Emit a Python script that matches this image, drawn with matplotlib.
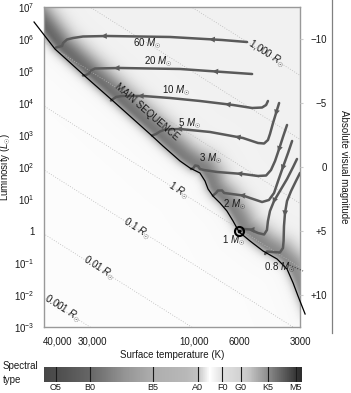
import numpy as np
import matplotlib

matplotlib.use("Agg")
import matplotlib.pyplot as plt
from matplotlib.lines import Line2D
from matplotlib.ticker import NullLocator
from matplotlib.transforms import ScaledTranslation

plt.rcParams["font.family"] = ["Liberation Sans", "DejaVu Sans"]
plt.rcParams["mathtext.fontset"] = "custom"
plt.rcParams["mathtext.rm"] = "Liberation Sans"
plt.rcParams["mathtext.it"] = "Liberation Sans:italic"
plt.rcParams["font.size"] = 7

# axis ranges
T_HOT, T_COOL = 54700, 3000
L_MIN, L_MAX = 1e-3, 1e7

# main sequence (log10 T, log10 L)
ms_logT = [4.787, 4.684, 4.526, 4.398, 4.216, 4.152, 4.068, 4.019, 3.970, 3.945,
           3.930, 3.906, 3.871, 3.837, 3.807, 3.777, 3.723, 3.659, 3.590, 3.541,
           3.511, 3.487, 3.452]
ms_logL = [6.531, 5.688, 4.781, 4.063, 3.031, 2.656, 2.188, 1.969, 1.813, 1.563,
           1.313, 1.094, 0.875, 0.625, 0.313, -0.031, -0.313, -0.625, -0.875, -1.188,
           -1.625, -2.031, -2.594]

# pre-main-sequence tracks (log10 T, log10 L)
m60_logT = [3.738, 3.861, 4.117, 4.428, 4.546, 4.595, 4.625, 4.644, 4.649, 4.669, 4.679]
m60_logL = [5.906, 5.969, 6.063, 6.094, 6.078, 6.031, 5.984, 5.875, 5.781, 5.750, 5.734]
m20_logT = [3.713, 3.856, 4.068, 4.364, 4.487, 4.507, 4.516, 4.531, 4.546]
m20_logL = [4.906, 4.969, 5.063, 5.094, 5.078, 5.016, 4.922, 4.875, 4.859]
m10_logT = [3.635, 3.644, 3.664, 3.713, 3.807, 3.970, 4.117, 4.250, 4.354, 4.383, 4.398, 4.408]
m10_logL = [4.063, 3.938, 3.859, 3.844, 3.938, 4.063, 4.156, 4.219, 4.219, 4.188, 4.125, 4.078]
m5_logT = [3.580, 3.595, 3.610, 3.625, 3.635, 3.654, 3.684, 3.758, 3.920, 4.068, 4.142,
           4.167, 4.186, 4.206]
m5_logL = [4.000, 3.688, 3.375, 3.031, 2.844, 2.734, 2.750, 2.906, 3.094, 3.188, 3.172,
           3.109, 3.031, 2.984]
m3_logT = [3.541, 3.561, 3.580, 3.600, 3.620, 3.644, 3.684, 3.758, 3.886, 3.950, 3.970,
           3.979, 3.994, 4.002, 4.014]
m3_logL = [3.313, 2.938, 2.563, 2.188, 1.906, 1.734, 1.719, 1.781, 1.844, 1.906, 1.938,
           2.031, 2.047, 1.969, 1.938]
m2_logT = [3.516, 3.536, 3.561, 3.585, 3.605, 3.630, 3.664, 3.723, 3.758, 3.832, 3.851,
           3.861, 3.881, 3.891, 3.906]
m2_logL = [2.813, 2.438, 2.000, 1.563, 1.188, 0.969, 0.906, 1.031, 1.109, 1.172, 1.188,
           1.266, 1.266, 1.188, 1.109]
m1_logT = [3.492, 3.511, 3.541, 3.576, 3.605, 3.625, 3.635, 3.640, 3.654, 3.684, 3.723,
           3.753, 3.768]
m1_logL = [2.250, 2.000, 1.625, 1.250, 0.938, 0.625, 0.313, 0.031, -0.109, -0.063, 0.047,
           0.063, 0.000]
m08_logT = [3.477, 3.497, 3.521, 3.541, 3.551, 3.556, 3.558, 3.561, 3.576, 3.615, 3.640, 3.649]
m08_logL = [1.813, 1.563, 1.250, 0.938, 0.563, 0.156, -0.313, -0.531, -0.672, -0.656,
            -0.641, -0.719]
dotted_logT = [3.541, 3.462]
dotted_logL = [-1.031, -1.250]

track_names = [r"60 $M_{\odot}$", r"20 $M_{\odot}$", r"10 $M_{\odot}$", r"5 $M_{\odot}$",
               r"3 $M_{\odot}$", r"2 $M_{\odot}$", r"1 $M_{\odot}$", r"0.8 $M_{\odot}$"]
track_label_logT = [4.231, 4.177, 4.088, 4.019, 3.920, 3.797, 3.802, 3.576]
track_label_logL = [5.844, 5.281, 4.375, 3.344, 2.250, 0.813, -0.313, -1.156]
arrow_index = [[1, 3], [1, 3], [4, 7], [1, 7, 9], [2, 7], [2, 8], [4, 10], [4]]

sun_T, sun_L = 6000, 1.0

# lines of constant radius
radii = [0.001, 0.01, 0.1, 1, 10, 100, 1000]
radius_labels = ["0.001", "0.01", "0.1", "1", "", "", "1,000"]
radius_label_T = [44600, 29300, 19050, 11970, None, None, 4405]

# magnitude scale
mag_ticks = [-10, -5, 0, 5, 10]
mag_labels = ["\u221210", "\u22125", "0", "+5", "+10"]

# temperature ticks
temp_ticks = [40000, 30000, 10000, 6000, 3000]
temp_labels = ["40,000", "30,000", "10,000", "6000", "3000"]

# spectral type bar
spec_types = ["O5", "B0", "B5", "A0", "F0", "G0", "K5", "M5"]
spec_T = [48000, 32500, 16000, 9600, 7300, 5900, 4350, 3180]
bar_T = [55000, 48000, 32500, 22000, 16000, 11000, 9600, 8400, 7300, 6500, 5900,
         5300, 4350, 3600, 3180, 3000]
bar_gray = [0.28, 0.30, 0.40, 0.58, 0.68, 0.72, 0.76, 1.0, 0.88, 0.85, 0.82,
            0.76, 0.55, 0.35, 0.22, 0.18]

W, H = 351, 393
fig = plt.figure(figsize=(W / 100, H / 100), dpi=100)
rect = [44 / W, 1 - 327 / H, 256 / W, 320 / H]

# shaded band along the main sequence
bg = fig.add_axes(rect, zorder=0)
nx, ny = 256, 320
U, V = np.meshgrid(np.arange(nx) + 0.5, np.arange(ny) + 0.5)
lt_hot, lt_cool = np.log10(T_HOT), np.log10(T_COOL)
ms_u = (lt_hot - np.array(ms_logT)) / (lt_hot - lt_cool) * nx
ms_v = (np.array(ms_logL) + 3) / 10 * ny
dist = np.full(U.shape, np.inf)
for i in range(len(ms_u) - 1):
    ax_, ay_ = ms_u[i], ms_v[i]
    bx_, by_ = ms_u[i + 1], ms_v[i + 1]
    dx, dy = bx_ - ax_, by_ - ay_
    t = np.clip(((U - ax_) * dx + (V - ay_) * dy) / (dx * dx + dy * dy), 0, 1)
    dist = np.minimum(dist, np.hypot(U - ax_ - t * dx, V - ay_ - t * dy))
side = np.sign(V - np.interp(U, ms_u, ms_v))
d = dist * side
base = 0.985 - 0.04 * (0.5 + 0.5 * np.tanh(d / 25))
depth = 0.55 - 0.15 * (U / nx)
width = np.where(d > 6, 16.0, 8.0)
img = base - depth * np.exp(-((d - 6) / width) ** 2)
bg.imshow(img, origin="lower", cmap="gray", vmin=0, vmax=1, aspect="auto",
          extent=(0, 1, 0, 1), interpolation="bilinear")
bg.axis("off")

ax = fig.add_axes(rect, zorder=1)
ax.patch.set_alpha(0)
ax.set_xscale("log")
ax.set_yscale("log")
ax.set_xlim(T_HOT, T_COOL)
ax.set_ylim(L_MIN, L_MAX)

# constant radius lines
T_grid = np.geomspace(2500, 70000, 60)
for R, lab, lt in zip(radii, radius_labels, radius_label_T):
    ax.plot(T_grid, R ** 2 * (T_grid / 5772) ** 4, color="0.72", lw=0.6,
            linestyle=(0, (1, 2)), zorder=1)
    if lab:
        L_here = R ** 2 * (lt / 5772) ** 4
        p1 = ax.transData.transform((lt * 1.1, R ** 2 * (lt * 1.1 / 5772) ** 4))
        p2 = ax.transData.transform((lt / 1.1, R ** 2 * (lt / 1.1 / 5772) ** 4))
        ang = np.degrees(np.arctan2(p2[1] - p1[1], p2[0] - p1[0]))
        ax.text(lt, L_here, lab + r" $R_{\odot}$", rotation=ang, rotation_mode="anchor",
                ha="center", va="center", fontsize=7, color="0.1", zorder=2)

# main sequence
ax.plot(10 ** np.array(ms_logT), 10 ** np.array(ms_logL), color="black", lw=0.9,
        clip_on=False, zorder=4)
ax.text(10 ** 4.232, 10 ** 3.720, "MAIN SEQUENCE", rotation=-41, ha="center",
        va="center", fontsize=7, color="0.1", rotation_mode="anchor", zorder=6)

# evolutionary tracks
track_color = "#5a5a5a"
tracks = [(m60_logT, m60_logL), (m20_logT, m20_logL), (m10_logT, m10_logL),
          (m5_logT, m5_logL), (m3_logT, m3_logL), (m2_logT, m2_logL),
          (m1_logT, m1_logL), (m08_logT, m08_logL)]
for (lt, ll), name, xt, yt, arrows in zip(tracks, track_names, track_label_logT,
                                           track_label_logL, arrow_index):
    ax.plot(10 ** np.array(lt), 10 ** np.array(ll), color=track_color, lw=1.8,
            solid_capstyle="round", solid_joinstyle="round", zorder=3)
    for i in arrows:
        x0, y0 = 10 ** lt[i], 10 ** ll[i]
        x1 = 10 ** (lt[i] + 0.25 * (lt[i + 1] - lt[i]))
        y1 = 10 ** (ll[i] + 0.25 * (ll[i + 1] - ll[i]))
        ax.annotate("", xy=(x1, y1), xytext=(x0, y0),
                    arrowprops=dict(arrowstyle="-|>,head_length=0.6,head_width=0.3",
                                    color=track_color, lw=0, shrinkA=0, shrinkB=0,
                                    mutation_scale=7), zorder=5)
    ax.text(10 ** xt, 10 ** yt, name, ha="center", va="center", fontsize=7,
            color="0.1", zorder=6)

ax.plot(10 ** np.array(dotted_logT), 10 ** np.array(dotted_logL), color="0.25", lw=0.8,
        linestyle=(0, (1, 1.5)), clip_on=False, zorder=3)

# the Sun
ax.plot([sun_T], [sun_L], "o", ms=6.5, mfc="none", mec="black", mew=1.5, zorder=7)
ax.plot([sun_T], [sun_L], "o", ms=1.6, color="black", zorder=7)

# axes styling
for sp in ax.spines.values():
    sp.set_color("0.6")
    sp.set_linewidth(1.0)
ax.set_xticks(temp_ticks)
ax.set_xticklabels(temp_labels)
ax.xaxis.set_minor_locator(NullLocator())
ax.set_yticks([10.0 ** k for k in range(-3, 8)])
ax.set_yticklabels(["1" if k == 0 else r"$10^{%d}$" % k for k in range(-3, 8)])
ax.yaxis.set_minor_locator(NullLocator())
ax.tick_params(axis="x", length=0, pad=7, labelsize=7, labelcolor="0.1")
ax.tick_params(axis="y", length=0, pad=7, labelsize=7, labelcolor="0.1")
for lab, dx in zip(ax.get_xticklabels()[:2], [-14, -5]):
    lab.set_transform(lab.get_transform() + ScaledTranslation(dx / 100, 0, fig.dpi_scale_trans))

ax2 = ax.twinx()
ax2.set_ylim(12.5, -12.5)
ax2.set_yticks(mag_ticks)
ax2.set_yticklabels(mag_labels)
for sp in ax2.spines.values():
    sp.set_visible(False)
ax2.tick_params(axis="y", length=2.5, color="0.8", pad=17, labelsize=7, labelcolor="0.1")
for lab in ax2.get_yticklabels():
    lab.set_horizontalalignment("right")

fig.add_artist(Line2D([332 / W, 332 / W], [1.0, 1 - 333 / H], transform=fig.transFigure,
                      color="0.5", lw=0.9))

fig.text(6 / W, 1 - 167 / H, r"Luminosity ($L_{\odot}$)", rotation=90, ha="center",
         va="center", fontsize=7, color="0.1")
fig.text(344 / W, 1 - 167 / H, "Absolute visual magnitude", rotation=270, ha="center",
         va="center", fontsize=7, color="0.1")
fig.text(172 / W, 1 - 355 / H, "Surface temperature (K)", ha="center", va="center",
         fontsize=7, color="0.1")

# spectral type bar
bax = fig.add_axes([44 / W, 1 - 382 / H, 258 / W, 15 / H])
bax.set_xscale("log")
bax.set_xlim(T_HOT, T_COOL * 0.985)
edges = np.geomspace(2900, 56000, 400)
mids = np.sqrt(edges[:-1] * edges[1:])
grays = np.interp(np.log10(mids), np.log10(bar_T[::-1]), bar_gray[::-1])
bax.pcolormesh(edges, [0, 1], grays[np.newaxis, :], cmap="gray", vmin=0, vmax=1,
               shading="flat")
bax.set_ylim(0, 1)
for T, name in zip(spec_T, spec_types):
    bax.axvline(T, color="0.1", lw=0.8)
    bax.text(T, -0.08, name, ha="center", va="top", fontsize=6.5, color="0.1")
bax.set_xticks([])
bax.set_yticks([])
bax.xaxis.set_minor_locator(NullLocator())
for sp in bax.spines.values():
    sp.set_visible(False)

fig.text(3 / W, 1 - 373 / H, "Spectral\ntype", ha="left", va="center", fontsize=7,
         color="0.1", linespacing=1.4)

fig.savefig("out.png", dpi=100)
